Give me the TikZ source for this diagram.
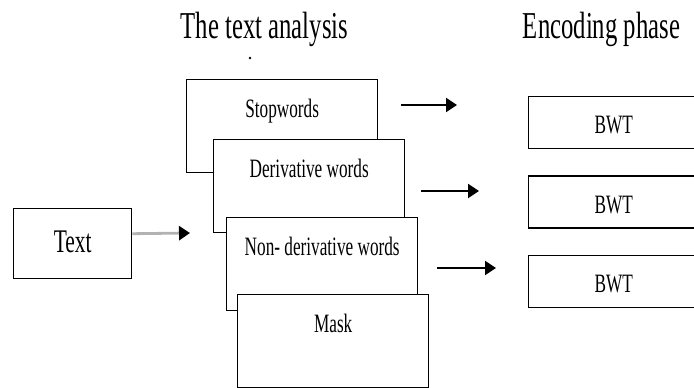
\documentclass[tikz,border=0pt]{standalone}
\usepackage{fontspec}
\setmainfont[FakeStretch=0.65]{Liberation Serif}
\usepackage{tikz}
\usetikzlibrary{arrows.meta, positioning}

\begin{document}
\begin{tikzpicture}[
    x=1pt, y=-1pt,
    layer/.style={draw, fill=white, line width=1.4pt, minimum width=191pt, inner sep=0pt, text height=38pt, text depth=55pt, anchor=north west, font=\fontsize{26.5}{30}\selectfont},
    bwt/.style={draw, fill=white, line width=1.4pt, minimum width=170pt, inner sep=0pt, text height=37pt, text depth=15pt, anchor=north west, font=\fontsize{26.5}{30}\selectfont},
    source/.style={draw, line width=1.4pt, minimum width=118pt, inner sep=0pt, text height=44pt, text depth=26pt, anchor=north west, font=\fontsize{33}{38}\selectfont},
    title/.style={anchor=base, font=\fontsize{38}{44}\selectfont},
    arrow/.style={-{Triangle[length=11pt, width=14pt]}, line width=2pt},
    feedarrow/.style={-{Triangle[length=11pt, width=14pt, color=black]}, line width=2.8pt, gray!60}
]
\useasboundingbox (0,0) rectangle (694,388);

% Titles
\node[title] (analysis) at (264.5,38) {The text analysis};
\node[title] (encoding) at (601.5,38) {Encoding phase};
\fill (250,58) circle (1.3);

% Input text
\node[source] (txt) at (13,208) {Text};
\coordinate (txttip) at (190,233);
\draw[feedarrow] ([yshift=10pt]txt.east) -- (txttip);

% Text analysis layers (stacked)
\node[layer] (stop) at (186,79) {Stopwords};
\node[layer] (deriv) at (213,139) {Derivative words};
\node[layer] (nonderiv) at (226,217) {Non- derivative words};
\node[layer] (mask) at (237,294) {Mask};

% Encoding phase
\node[bwt] (bwt1) at (528,96) {BWT};
\node[bwt, below=26pt of bwt1] (bwt2) {BWT};
\node[bwt, below=26pt of bwt2] (bwt3) {BWT};

% Arrows to the encoder
\coordinate (a1) at (401,105);
\coordinate (b1) at (457,105);
\coordinate (a2) at (421,191);
\coordinate (b2) at (479,191);
\coordinate (a3) at (437,268);
\coordinate (b3) at (496,268);
\foreach \i in {1,2,3}
    \draw[arrow] (a\i) -- (b\i);

\end{tikzpicture}
\end{document}
